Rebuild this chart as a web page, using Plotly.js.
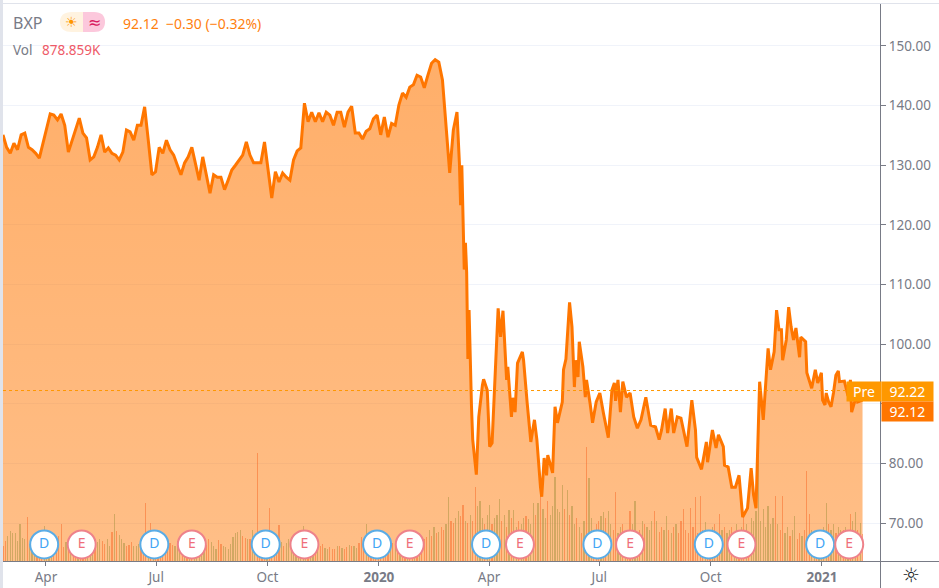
<!DOCTYPE html>
<html>
<head>
<meta charset="utf-8">
<script src="https://cdn.plot.ly/plotly-3.0.1.min.js"></script>
<style>html,body{margin:0;padding:0;background:#fff;overflow:hidden}#chart{width:939px;height:588px}</style>
</head>
<body>
<div id="chart"></div>
<script>
// Closing prices, one every third calendar day from the first session shown
const closesEarly = [135.1,133,132,133.7,132.6,135.1,135.4,133,132.6,132,131.2,133.7,136.4,138.6,138.4,137.6,138.6,136.7,132.2,134.2,136.2,137.9,135.4,134.6,130.9,131.4,133,135.1,132.2,132.9,132,131.7,130.9,132.2,135.9,135.6,134.2,136.7,136.7,139.8,134.2,128.4,128.9,133,132,134.2,132.6,131.7,130,128.4,130.4,131.4,133,130.4,127.5,131.4,128,125.3,128.4,128,128,125.9,127.5,129.2,130,130.9,131.7,133.9,131.7,130.4,130.4,130.4,133.9,129.2,124.5,128.9,127.2,128.7,128,127.5,130.9,132.4,132.9,140.4,137.3,138.9,137.3,138.8,137.3,138.9,138.4,136.7,138.9,138.9,136.4,138.9,139.9,135.4,135.4,134.4,135.7,136.1,137.8,138.4,135.1,138.1,134.7,137,136.7,140.1,142.1,141.4,143.1,143.5,145.1,144.8,143,145.1,147.1,147.7,147.3,144.3];
// Later sessions: calendar day number and closing price
const daysLate = [366,369,372,375,377,378,379,380,381,382,383,384,385,387,388,391,393,396,397,400,402,404,406,409,411,413,416,417,420,421,423,425,429,430,433,436,439,441,444,445,447,449,450,454,456,458,462,463,465,468,470,472,473,475,476,479,481,482,485,487,490,493,496,500,503,505,506,508,510,512,515,518,521,524,527,531,535,539,542,544,547,549,552,554,557,560,565,569,572,573,577,581,582,586,589,591,595,596,599,602,605,608,611,615,618,620,622,624,625,628,631,632,634,637,639,641,643,644,647,649,651,653,655,658,659,663,664,667,668,671,673,676,677,679,680,682,684,686,688,690,691,695,697,698,700,701,705,706,710];
const closesLate = [137.1,128.7,135.9,138.9,130.4,123.3,130,120.8,112.5,117,112,97.5,105.7,89.5,84,78.1,87.8,93.1,94.1,92.3,82.8,83.4,92.3,106,101.2,105.6,94,96.2,87.8,91,88.6,96.8,98.7,97.3,90.1,83.6,87.3,84,76,74.4,80.9,78,81.4,78.4,89.5,86.8,90.3,95.7,97.5,107,102.9,92.8,97.3,94.5,100.4,96.2,91.1,94,90,86.8,90.3,91.8,88.4,84.3,92.3,93.5,90.5,94,88.6,93.7,91.1,91.8,87.8,85.9,87.3,91.1,86.4,86.1,84,85.6,89.2,85.1,89.2,85.1,87.8,87.6,82.8,90.6,85.6,81,79,83.6,80.2,85.6,82.6,84.8,82.8,79.7,79.4,76,76,78,71,72.5,79.2,74.7,72.5,89.5,93.7,87.3,97,99.3,95.7,98.7,105.7,102.4,102.4,97.3,100.7,106.2,102.9,100.7,102.7,97.8,101.2,100.4,95.2,93.2,92.6,95.7,93.5,95.2,90.6,89.8,91.8,90.3,89.5,91.8,94.8,95.5,93.7,93.8,91.8,91.3,94,88.6,91.4,90.3,90.6,92.12];
// Volume in thousands, one every second calendar day; a negative sign marks a down day
const signedVolumes = [-490,-650,810,970,900,900,650,1200,750,720,
-1430,550,480,600,-650,-700,-880,1130,850,700,
650,-550,-750,-800,-1200,-450,620,-700,750,-900,
-850,700,-600,-550,-500,950,780,620,-720,620,
720,-650,-550,730,480,-950,1520,-980,850,720,
600,-480,-520,-620,500,480,550,-600,-700,-1900,
900,-1230,850,-720,-500,-520,-380,-400,-480,-600,
-520,500,650,620,-700,780,-560,530,-650,500,
640,860,420,550,-520,-700,620,480,400,-680,
-560,480,450,400,540,780,900,950,1020,-800,
-750,720,-700,1000,620,-3510,-650,-1000,-600,500,
-1720,-800,-700,-550,-1170,620,-500,600,700,780,
850,900,780,950,1130,900,-750,700,650,-600,
480,-500,-550,420,380,-450,-400,-380,480,-500,
420,-380,-450,520,-500,480,420,-600,-780,-550,
1200,-700,-500,-600,-520,-480,-560,-420,-650,-500,
480,-600,650,-520,700,-560,-620,780,-700,-800,
700,-650,900,-700,-720,-780,1000,-800,1100,-900,
950,-1100,-1000,1200,2080,-1300,-1250,1400,1620,-1450,
-1820,1300,-1250,1500,-1300,-2400,1800,1950,1400,-1200,
1500,1820,-1200,1400,1500,2010,-1300,1500,-1100,1650,
-1400,1650,1100,-1300,1200,1400,-1450,1350,1200,1880,
-1500,1900,-2275,1700,1400,-1950,1500,1800,2730,1700,
1600,2470,-1700,2300,-1500,1780,1200,-1400,1100,-900,
1300,-3700,2700,1400,-1000,-1200,-1300,1450,1600,-1400,
1620,1200,-1000,-2240,900,1100,-1200,850,-1000,-1620,
1200,1950,900,-1000,1300,-1200,1100,1000,1300,-1620,
1300,-950,-1100,1000,1460,-1000,900,-1100,1200,-900,
-1300,-1690,-1000,-900,-1720,-1100,-2080,-900,-2110,-1000,
1270,-900,-1000,1100,-1200,900,-1530,1000,-1100,900,
1000,-1100,900,1200,-1000,1100,-1460,1200,-900,1400,
1300,1620,3480,1300,1690,1100,1790,1200,1400,-2110,
1200,-1000,-2110,900,1100,-800,1000,1460,-700,-900,
800,-1000,-2930,-1530,1000,900,-800,900,1000,1100,
1880,-1200,1000,1200,-900,1100,1000,-1000,1100,900,
-1530,1300,1590,-1000,1250,-879];
// Dividend and earnings event dates (day numbers as above)
const dividendDays = [34,125,217,309,399,491,583,675];
const earningsDays = [65,156,249,336,427,518,610,699];
// Axis labels (the 90.00 label sits hidden under the price tags)
const priceTicks = [70,80,90,100,110,120,130,140,150];
const priceLabels = ['70.00','80.00','','100.00','110.00','120.00','130.00','140.00','150.00'];
const dateTicks = ['2019-04-01','2019-07-01','2019-10-01','2020-01-01','2020-04-01','2020-07-01','2020-10-01','2021-01-01'];
const dateLabels = ['Apr','Jul','Oct','<b>2020</b>','Apr','Jul','Oct','<b>2021</b>'];
const lastPrice = 92.12, prePrice = 92.22;

const origin = Date.UTC(2019,1,24,12);
const DAY = 864e5;
const toDate = d => new Date(origin + d*DAY).toISOString();
const priceDays = closesEarly.map((_, i) => i*3).concat(daysLate);
const closes = closesEarly.concat(closesLate);
const volDates = signedVolumes.map((_, i) => toDate(i*2));

const L=3, R=880, T=4, B=561;
const px = x => (x-L)/(R-L);
const py = y => (B-y)/(B-T);
const FONT = '"Noto Sans", sans-serif';
const GREY = '#787b86';
const priceRange = [63.63,157.04];
const MARKER_Y = 66.4;

const traces = [
 {type:'bar', x:volDates, y:signedVolumes.map(Math.abs), yaxis:'y', width:DAY*1.0,
  marker:{color:signedVolumes.map(v=>v<0?'rgba(240,80,60,0.48)':'rgba(83,170,120,0.5)'), line:{width:0}}, hoverinfo:'skip'},
 {type:'scatter', mode:'lines', x:priceDays.map(toDate), y:closes, yaxis:'y2', fill:'tozeroy',
  line:{color:'#ff7600', width:3, shape:'linear'},
  fillgradient:{type:'vertical', start:157, stop:63.6, colorscale:[[0,'rgba(255,118,0,0.60)'],[1,'rgba(255,118,0,0.47)']]},
  hoverinfo:'skip'},
 {type:'scatter', mode:'markers+text', x:dividendDays.map(toDate), y:dividendDays.map(()=>MARKER_Y), yaxis:'y3',
  text:dividendDays.map(()=>'D'), textposition:'middle center', textfont:{family:FONT,size:14,color:'#42a5f5'},
  marker:{size:28,color:'#ffffff',line:{color:'#5aace6',width:2}}, hoverinfo:'skip'},
 {type:'scatter', mode:'markers+text', x:earningsDays.map(toDate), y:earningsDays.map(()=>MARKER_Y), yaxis:'y3',
  text:earningsDays.map(()=>'E'), textposition:'middle center', textfont:{family:FONT,size:14,color:'#ef6f7b'},
  marker:{size:28,color:'#ffffff',line:{color:'#ee828a',width:2}}, hoverinfo:'skip'}
];

const note = (text,x,y,size,color,extra) => Object.assign({text,xref:'paper',yref:'paper',x:px(x),y:py(y),
  xanchor:'left',yanchor:'middle',showarrow:false,font:{family:FONT,size,color}},extra||{});
const box = (text,x,y,w,h,color) => ({text,xref:'paper',yref:'paper',x:px(x),y:py(y),xanchor:'left',yanchor:'top',
  width:w,height:h,bgcolor:color,borderpad:0,align:'center',valign:'middle',showarrow:false,font:{family:FONT,size:14,color:'#fff'}});
const rect = (x0,y0,x1,y1,color) => ({type:'rect',xref:'paper',yref:'paper',x0:px(x0),x1:px(x1),y0:py(y0),y1:py(y1),fillcolor:color,line:{width:0},layer:'above'});
const line = (x0,y0,x1,y1,color) => ({type:'line',xref:'paper',yref:'paper',x0:px(x0),x1:px(x1),y0:py(y0),y1:py(y1),line:{color,width:1},layer:'above'});
const pill = (pts,color) => ({type:'path',xref:'paper',yref:'paper',fillcolor:color,line:{width:0},layer:'above',path:pts});
const P = (x,y) => px(x)+','+py(y);

const layout = {
 width:939, height:588, margin:{l:L,r:939-R,t:T,b:588-B,pad:0},
 paper_bgcolor:'#ffffff', plot_bgcolor:'#ffffff', showlegend:false, bargap:0, hovermode:false,
 xaxis:{type:'date', range:[toDate(0),toDate((R-L)/1.2106)], tickmode:'array', tickvals:dateTicks, ticktext:dateLabels,
  ticks:'outside', ticklen:4, tickcolor:GREY, tickfont:{family:FONT,size:13.5,color:GREY}, showgrid:false, showline:true, linecolor:GREY, linewidth:1, zeroline:false},
 yaxis:{range:[0,18100], visible:false, fixedrange:true},
 yaxis2:{overlaying:'y', side:'right', anchor:'x', range:priceRange, tickmode:'array', tickvals:priceTicks, ticktext:priceLabels,
  ticks:'outside', ticklen:5, tickcolor:GREY, tickfont:{family:FONT,size:13.5,color:GREY}, showgrid:true, gridcolor:'#f0f3fa', gridwidth:1,
  showline:true, linecolor:GREY, linewidth:1, zeroline:false},
 yaxis3:{overlaying:'y', anchor:'x', range:priceRange, visible:false},
 shapes:[
  {type:'line',xref:'paper',yref:'y2',x0:0,x1:1,y0:prePrice,y1:prePrice,line:{color:'#ff9800',width:1,dash:'dot'},layer:'above'},
  rect(0,0,3,588,'#e0e3eb'),
  line(0,3.5,939,3.5,'#e0e3eb'),
  line(R+0.5,561,R+0.5,588,GREY),
  line(R,561.5,939,561.5,GREY),
  pill('M'+P(83,12)+' L'+P(72,12)+' Q'+P(60,12)+' '+P(60,22)+' Q'+P(60,32)+' '+P(72,32)+' L'+P(83,32)+' Z','#fff3e0'),
  pill('M'+P(83,12)+' L'+P(94,12)+' Q'+P(105,12)+' '+P(105,22)+' Q'+P(105,32)+' '+P(94,32)+' L'+P(83,32)+' Z','#fcc8dc')
 ],
 annotations:[
  note('BXP',11,23,16,GREY),
  note('☀',63,22,14,'#ff9800',{font:{family:'"DejaVu Sans"',size:14,color:'#ff9800'}}),
  note('≈',86,22,16,'#d81b60',{font:{family:'"DejaVu Sans"',size:16,color:'#d81b60'}}),
  note('92.12  −0.30 (−0.32%)',121,23,14,'#ff7f0e'),
  note('Vol',11,50,13.5,GREY),
  note('878.859K',40,50,13.5,'#ee5a68'),
  box('Pre',846,381,34,19,'#ff9800'),
  box(prePrice.toFixed(2),881,381,51,19,'#ff9800'),
  box(lastPrice.toFixed(2),881,401,51,19,'#ff7600'),
  note('☼',911,575,20,'#131722',{xanchor:'center',font:{family:'"DejaVu Sans"',size:20,color:'#131722'}})
 ]
};
Plotly.newPlot('chart',traces,layout,{displayModeBar:false,staticPlot:true});
</script>
</body>
</html>
